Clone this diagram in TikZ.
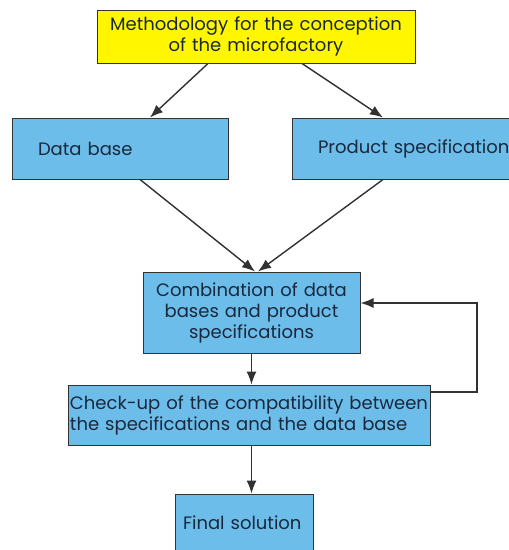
\documentclass[tikz,border=0pt]{standalone}
\usepackage{fontspec}
\setmainfont{Poppins}
\usetikzlibrary{arrows.meta}
\definecolor{boxblue}{RGB}{108,189,234}
\definecolor{boxyellow}{RGB}{255,246,0}
\definecolor{inkgray}{RGB}{50,50,50}
\definecolor{textnavy}{RGB}{25,40,60}

\begin{document}
\begin{tikzpicture}[x=1pt, y=-1pt,
  box/.style={draw=inkgray, line width=1pt, fill=boxblue, text=textnavy,
    font=\fontsize{18}{21}\selectfont, inner ysep=0pt},
  flow/.style={draw=inkgray, line width=1.4pt, -{Latex[length=13pt,width=10pt]}}]
\useasboundingbox (0,0) rectangle (509,550);
\clip (0,0) rectangle (509,550);
\node[box, fill=boxyellow, align=center, text width=318pt, inner xsep=0pt,
  minimum height=53pt] (meth) at (256,36.5)
  {Methodology for the conception\\of the microfactory};
\node[box, align=left, text width=164pt, inner xsep=26pt,
  minimum height=61pt] (db) at (120,148.5) {Data base};
\node[box, align=left, text width=260pt, inner xsep=26pt,
  minimum height=61pt] (ps) at (448,148.5) {Product specifications};
\node[box, align=center, text width=217pt, inner xsep=0pt,
  minimum height=81pt] (comb) at (251.5,312.5)
  {Combination of data\\bases and product\\specifications};
\node[box, align=left, text width=358pt, inner xsep=2pt,
  minimum height=60pt] (chk) at (249,415)
  {Check-up of the compatibility between\\the specifications and the data base};
\node[box, align=left, text width=122pt, inner xsep=8pt,
  minimum height=58pt] (fin) at (244,523) {Final solution};
\draw[flow] ([xshift=-48pt]meth.south) -- ([xshift=30pt]db.north);
\draw[flow] ([xshift=46pt]meth.south) -- ([xshift=-65pt]ps.north);
\draw[flow] ([xshift=20pt]db.south) -- ([xshift=3.5pt]comb.north);
\draw[flow] ([xshift=-65pt]ps.south) -- ([xshift=6.5pt]comb.north);
\draw[flow] (comb.south) -- (comb.south |- chk.north);
\draw[flow] (comb.south |- chk.south) -- (comb.south |- fin.north);
% feedback loop
\coordinate (loopbot) at ([yshift=23pt]chk.east);
\coordinate (looptop) at ([yshift=9.5pt]comb.east);
\draw[flow] (loopbot) -- (477,0 |- loopbot) -- (477,0 |- looptop) -- (looptop);
\end{tikzpicture}
\end{document}
